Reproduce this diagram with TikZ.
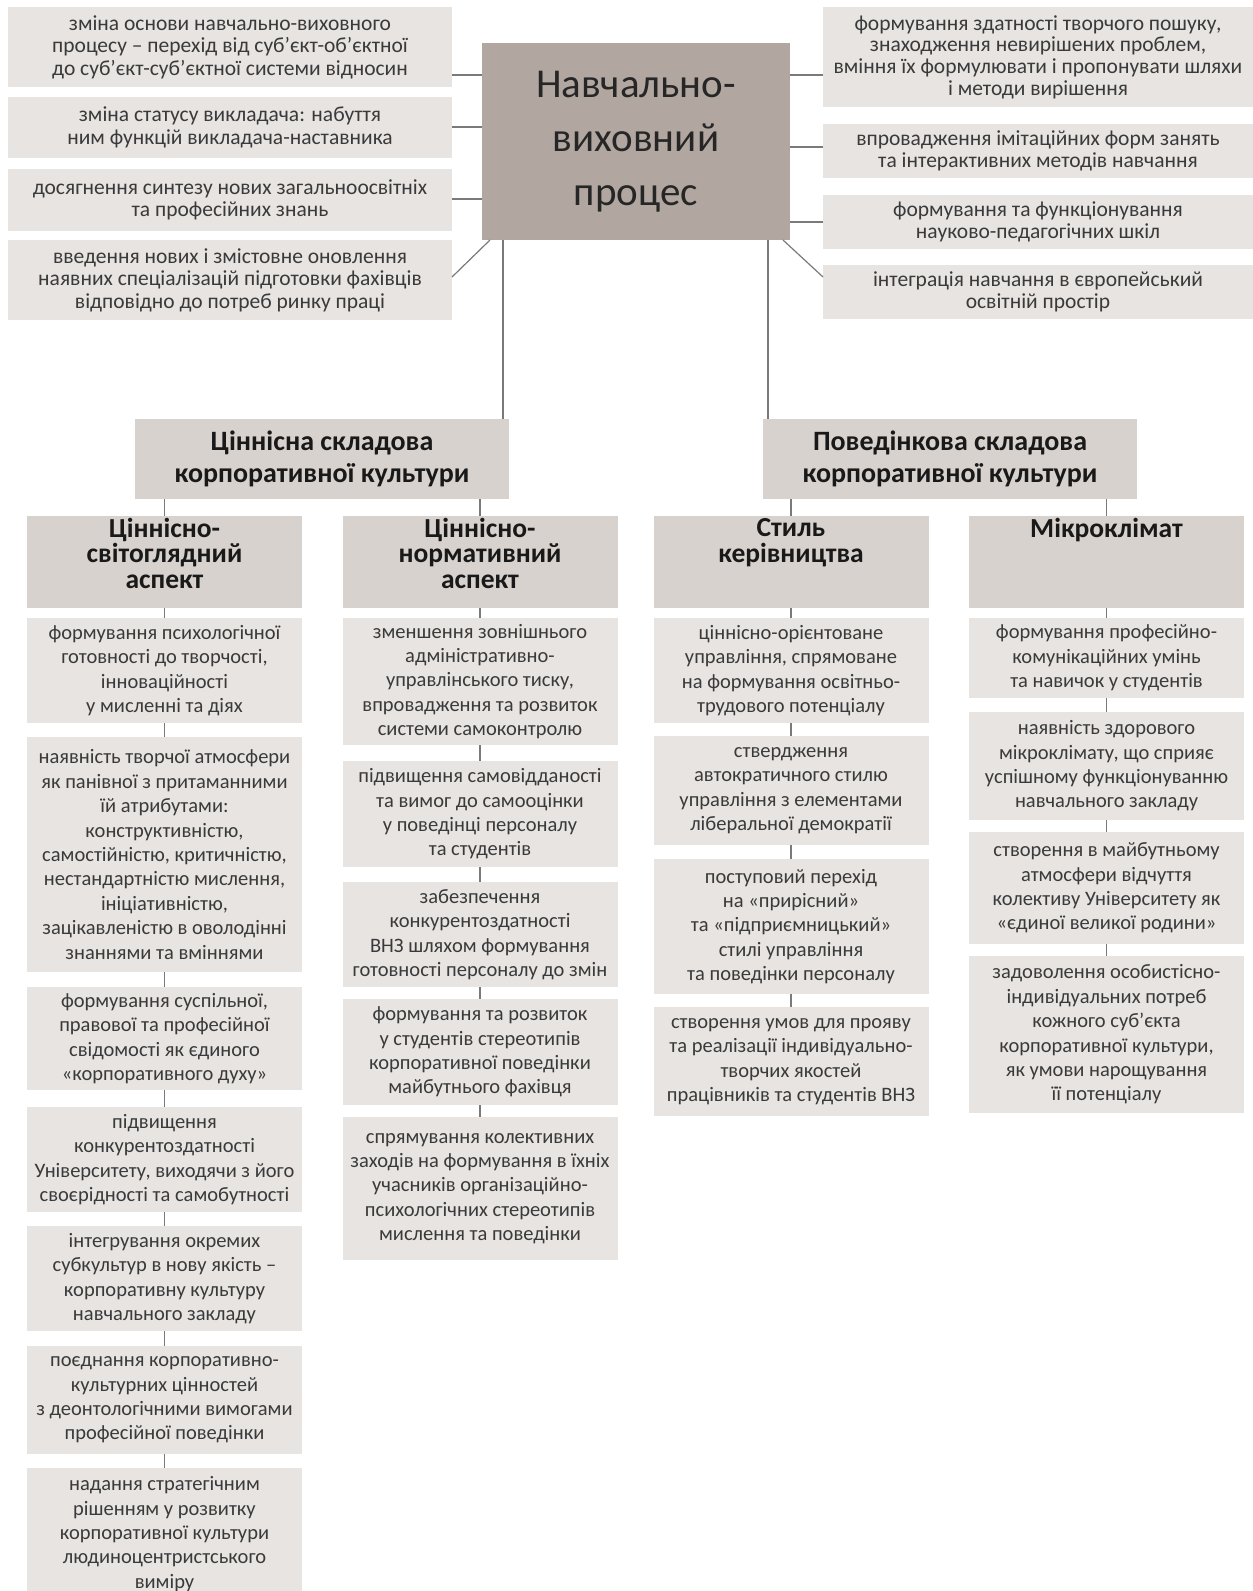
\documentclass[tikz,border=0pt]{standalone}
\usepackage{fontspec}
\setmainfont{Carlito}
\definecolor{boxgrey}{HTML}{E7E4E2}
\definecolor{headgrey}{HTML}{D8D2CE}
\definecolor{coregrey}{HTML}{B1A7A0}
\definecolor{linegrey}{HTML}{7A7A7A}
\definecolor{textgrey}{HTML}{3A3A3A}
\newcommand\lowpad{\rule[-18pt]{0pt}{0pt}}

\begin{document}
\begin{tikzpicture}[x=1pt,y=-1pt]
\tikzstyle{every node}=[inner sep=0pt, outer sep=0pt, align=center];
\tikzstyle{topbox}=[fill=boxgrey, text=textgrey, minimum width=444pt, font=\fontsize{21.5}{22.4}\selectfont];
\tikzstyle{rightbox}=[topbox, minimum width=430pt, font=\fontsize{21.5}{21.7}\selectfont];
\tikzstyle{corebox}=[fill=coregrey, text=black!85, minimum width=308pt, minimum height=197pt, font=\fontsize{41}{54}\selectfont];
\tikzstyle{partbox}=[fill=headgrey, text=black!90, minimum width=374pt, minimum height=80pt, font=\bfseries\fontsize{28}{32.7}\selectfont];
\tikzstyle{colhead}=[fill=headgrey, text=black!90, minimum width=275pt, minimum height=92pt, font=\bfseries\fontsize{27.5}{25.5}\selectfont];
\tikzstyle{item}=[fill=boxgrey, text=textgrey, minimum width=275pt, font=\fontsize{20.5}{24.4}\selectfont];
\tikzstyle{link}=[draw=linegrey, line width=1.2pt];

\fill[white] (0,0) rectangle (1253,1591);
\useasboundingbox (0,0) rectangle (1253,1591);

% top row
\node[corebox] (core) at (636,141.5) {Навчально-\\виховний\\процес};

\node[topbox, minimum height=80pt] (tl1) at (230,47) {зміна основи навчально-виховного\\процесу – перехід від суб’єкт-об’єктної\\до суб’єкт-суб’єктної системи відносин};
\node[topbox, minimum height=61pt] (tl2) at (230,127.5) {зміна статусу викладача: набуття\\ним функцій викладача-наставника};
\node[topbox, minimum height=62pt] (tl3) at (230,200) {досягнення синтезу нових загальноосвітніх\\та професійних знань};
\node[topbox, minimum height=80pt] (tl4) at (230,280) {введення нових і змістовне оновлення\\наявних спеціалізацій підготовки фахівців\\відповідно до потреб ринку праці};

\node[rightbox, minimum height=100pt] (tr1) at (1038,57) {формування здатності творчого пошуку,\\знаходження невирішених проблем,\\вміння їх формулювати і пропонувати шляхи\\і методи вирішення};
\node[rightbox, minimum height=54pt] (tr2) at (1038,151) {впровадження імітаційних форм занять\\та інтерактивних методів навчання};
\node[rightbox, minimum height=54pt] (tr3) at (1038,222) {формування та функціонування\\науково-педагогічних шкіл};
\node[rightbox, minimum height=54pt] (tr4) at (1038,292) {інтеграція навчання в європейський\\освітній простір};

% two parts
\node[partbox] (val) at (322,459) {Ціннісна складова\\корпоративної культури};
\node[partbox] (beh) at (950,459) {Поведінкова складова\\корпоративної культури};

% column heads
\node[colhead] (h1) at (164.5,562) {Ціннісно-\\світоглядний\\аспект\lowpad};
\node[colhead] (h2) at (480,562) {Ціннісно-\\нормативний\\аспект\lowpad};
\node[colhead] (h3) at (791,562) {Стиль\\керівництва\\\strut\lowpad};
\node[colhead] (h4) at (1106.5,562) {Мікроклімат\\\strut\\\strut\lowpad};

% column 1
\node[item, minimum height=105pt] (c1a) at (164.5,670.5) {формування психологічної\\готовності до творчості,\\інноваційності\\у мисленні та діях};
\node[item, minimum height=235pt] (c1b) at (164.5,854.5) {наявність творчої атмосфери\\як панівної з притаманними\\їй атрибутами:\\конструктивністю,\\самостійністю, критичністю,\\нестандартністю мислення,\\ініціативністю,\\зацікавленістю в оволодінні\\знаннями та вміннями};
\node[item, minimum height=103pt] (c1c) at (164.5,1038.5) {формування суспільної,\\правової та професійної\\свідомості як єдиного\\«корпоративного духу»};
\node[item, minimum height=105pt] (c1d) at (164.5,1159.5) {підвищення\\конкурентоздатності\\Університету, виходячи з його\\своєрідності та самобутності};
\node[item, minimum height=105pt] (c1e) at (164.5,1278.5) {інтегрування окремих\\субкультур в нову якість –\\корпоративну культуру\\навчального закладу};
\node[item, minimum height=108pt] (c1f) at (164.5,1400) {поєднання корпоративно-\\культурних цінностей\\з деонтологічними вимогами\\професійної поведінки};
\node[item, minimum height=132pt] (c1g) at (164.5,1534) {надання стратегічним\\рішенням у розвитку\\корпоративної культури\\людиноцентристського\\виміру};

% column 2
\node[item, minimum height=127pt] (c2a) at (480,681.5) {зменшення зовнішнього\\адміністративно-\\управлінського тиску,\\впровадження та розвиток\\системи самоконтролю};
\node[item, minimum height=106pt] (c2b) at (480,814) {підвищення самовідданості\\та вимог до самооцінки\\у поведінці персоналу\\та студентів};
\node[item, minimum height=105pt] (c2c) at (480,934.5) {забезпечення\\конкурентоздатності\\ВНЗ шляхом формування\\готовності персоналу до змін};
\node[item, minimum height=106pt] (c2d) at (480,1052) {формування та розвиток\\у студентів стереотипів\\корпоративної поведінки\\майбутнього фахівця};
\node[item, minimum height=143pt] (c2e) at (480,1188.5) {спрямування колективних\\заходів на формування в їхніх\\учасників організаційно-\\психологічних стереотипів\\мислення та поведінки};

% column 3
\node[item, minimum height=105pt] (c3a) at (791,670.5) {ціннісно-орієнтоване\\управління, спрямоване\\на формування освітньо-\\трудового потенціалу};
\node[item, minimum height=109pt] (c3b) at (791,790.5) {ствердження\\автократичного стилю\\управління з елементами\\ліберальної демократії};
\node[item, minimum height=135pt] (c3c) at (791,926.5) {поступовий перехід\\на «прирісний»\\та «підприємницький»\\стилі управління\\та поведінки персоналу};
\node[item, minimum height=109pt] (c3d) at (791,1061.5) {створення умов для прояву\\та реалізації індивідуально-\\творчих якостей\\працівників та студентів ВНЗ};

% column 4
\node[item, minimum height=80pt] (c4a) at (1106.5,658) {формування професійно-\\комунікаційних умінь\\та навичок у студентів};
\node[item, minimum height=108pt] (c4b) at (1106.5,766) {наявність здорового\\мікроклімату, що сприяє\\успішному функціонуванню\\навчального закладу};
\node[item, minimum height=112pt] (c4c) at (1106.5,888) {створення в майбутньому\\атмосфери відчуття\\колективу Університету як\\«єдиної великої родини»};
\node[item, minimum height=157pt] (c4d) at (1106.5,1034.5) {задоволення особистісно-\\індивідуальних потреб\\кожного суб’єкта\\корпоративної культури,\\як умови нарощування\\її потенціалу};

% links round the core
\foreach \b/\h in {tl1/75, tl2/127, tl3/199}
  \draw[link] (\b.east |- 0,\h) -- (core.west |- 0,\h);
\foreach \b/\h in {tr1/75, tr2/147, tr3/222}
  \draw[link] (core.east |- 0,\h) -- (\b.west |- 0,\h);
\draw[link] ([xshift=8pt]core.south west) -- (tl4.east |- 0,277);
\draw[link] ([xshift=-7pt]core.south east) -- (tr4.west |- 0,277);
\draw[link] (core.south -| 503,0) -- (val.north -| 503,0);
\draw[link] (core.south -| 768,0) -- (beh.north -| 768,0);

% links down the columns
\foreach \from/\to in {val/h1, val/h2, beh/h3, beh/h4}
  \draw[link] (\from.south -| \to) -- (\to);
\foreach \from/\to in {h1/c1a, c1a/c1b, c1b/c1c, c1c/c1d, c1d/c1e, c1e/c1f, c1f/c1g,
    h2/c2a, c2a/c2b, c2b/c2c, c2c/c2d, c2d/c2e,
    h3/c3a, c3a/c3b, c3b/c3c, c3c/c3d,
    h4/c4a, c4a/c4b, c4b/c4c, c4c/c4d}
  \draw[link] (\from) -- (\to);

\end{tikzpicture}
\end{document}
